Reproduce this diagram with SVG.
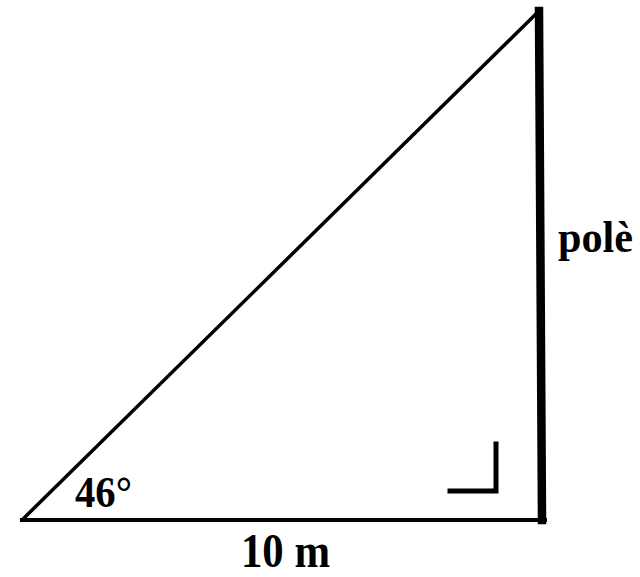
<svg xmlns="http://www.w3.org/2000/svg" width="640" height="577" viewBox="0 0 640 577">
<style>
.t{font-family:"Liberation Serif","Times New Roman",serif;font-weight:bold;fill:#000}
.s{stroke:#000;fill:none;stroke-linecap:square}
</style>
<rect width="640" height="577" fill="#fff"/>
<g id="connectors">
<line class="s" x1="22" y1="520" x2="538" y2="12" stroke-width="3.5"/>
<line class="s" x1="22" y1="520" x2="545" y2="520" stroke-width="4"/>
<line class="s" x1="539" y1="11" x2="542" y2="520" stroke-width="8.5"/>
<polyline class="s" points="450,491 496,491 496,444" stroke-width="5" stroke-linecap="butt"/>
</g>
<g id="label-angle"><text class="t" x="75" y="507" font-size="45" textLength="57" lengthAdjust="spacingAndGlyphs">46°</text></g>
<g id="label-base"><text class="t" x="241" y="567" font-size="48" textLength="89" lengthAdjust="spacingAndGlyphs">10 m</text></g>
<g id="label-pole"><text class="t" x="558" y="252" font-size="44" textLength="75" lengthAdjust="spacingAndGlyphs">polè</text></g>
</svg>
